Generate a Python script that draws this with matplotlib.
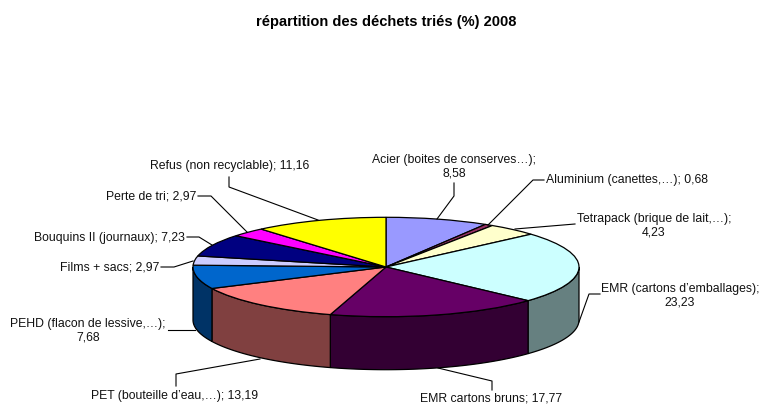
import numpy as np
import matplotlib
matplotlib.use("Agg")
import matplotlib.pyplot as plt
from matplotlib.colors import to_rgb

plt.rcParams['font.family'] = ['Liberation Sans', 'DejaVu Sans']

titre = "répartition des déchets triés (%) 2008"
categories = ["Acier (boites de conserves…)", "Aluminium (canettes,…)",
              "Tetrapack (brique de lait,…)", "EMR (cartons d’emballages)",
              "EMR cartons bruns", "PET (bouteille d’eau,…)",
              "PEHD (flacon de lessive,…)", "Films + sacs",
              "Bouquins II (journaux)", "Perte de tri",
              "Refus (non recyclable)"]
valeurs = [8.58, 0.68, 4.23, 23.23, 17.77, 13.19, 7.68, 2.97, 7.23, 2.97, 11.16]
couleurs = ["#9999FF", "#993366", "#FFFFCC", "#CCFFFF", "#660066", "#FF8080",
            "#0066CC", "#CCCCFF", "#000080", "#FF00FF", "#FFFF00"]

# Geometrie en pixels de l'image
W, H = 759, 405
cx, cy = 386, 267
rx, ry = 193, 49.7
prof = 53

# position du texte (centre) et trace du trait de rappel, en pixels
sep = ["\n", " ", "\n", "\n", " ", " ", "\n", " ", " ", " ", " "]
pos_txt = [(454, 166.5), (627, 180.5), (654, 225.5), (680, 295.5), (491, 398.5),
           (175, 396.5), (88, 331), (110, 267.5), (109, 238.5), (151, 196.5), (230, 166.5)]
traits = [
    [(454, 183), (454, 196), (437, 219)],
    [(544, 180), (533, 180), (488, 225)],
    [(575, 224), (563, 225), (515, 229)],
    [(600, 294), (589, 294), (579, 322)],
    [(492, 390), (492, 381), (438, 368)],
    [(176, 386), (176, 374), (260, 359)],
    [(168, 330), (195, 330)],
    [(161, 267), (174, 267), (193, 261)],
    [(187, 237), (199, 237), (212, 245)],
    [(198, 196), (211, 196), (247, 232)],
    [(229, 177), (229, 187), (318, 220)],
]


def px(x, y):
    return (x - cx) / rx, (cy - y) / ry


fig = plt.figure(figsize=(W / 100, H / 100), dpi=100)
ax = fig.add_axes([0, 0, 1, 1])

# dessus du camembert
wedges, _ = ax.pie(valeurs, colors=couleurs, startangle=90, counterclock=False,
                   wedgeprops=dict(edgecolor='black', linewidth=0.9, zorder=3))

# flanc visible (moitie avant), couleur assombrie
fr = np.array(valeurs) / sum(valeurs) * 360
fin = np.cumsum(fr)
deb = fin - fr
h = prof / ry
for a0, a1, c in zip(deb, fin, couleurs):
    a0, a1 = max(a0, 90), min(a1, 270)
    if a1 <= a0:
        continue
    t = np.radians(np.linspace(a0, a1, 60))
    xs, ys = np.sin(t), np.cos(t)
    ax.fill(np.r_[xs, xs[::-1]], np.r_[ys, ys[::-1] - h],
            color=tuple(0.5 * v for v in to_rgb(c)), ec='black', lw=0.9, zorder=2)

ax.set_aspect('auto')
ax.set_xlim(px(0, 0)[0], px(W, 0)[0])
ax.set_ylim(px(0, H)[1], px(0, 0)[1])
ax.axis('off')

for nom, v, s, p, tr in zip(categories, valeurs, sep, pos_txt, traits):
    lab = f"{nom};{s}{v:.2f}".replace(".", ",")
    x, y = px(*p)
    ax.text(x, y, lab, ha='center', va='center', fontsize=8.8, color='#111111',
            linespacing=1.2, clip_on=True)
    pts = [px(*q) for q in tr]
    ax.plot([q[0] for q in pts], [q[1] for q in pts], color='black', lw=0.8, zorder=4)

x, y = px(386, 22)
ax.text(x, y, titre, ha='center', va='center', fontsize=10.5, fontweight='bold')

fig.savefig("out.png", dpi=100)
